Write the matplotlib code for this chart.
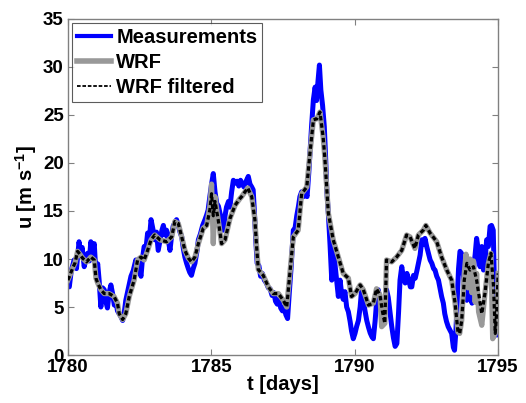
import matplotlib
matplotlib.use("Agg")
import matplotlib.pyplot as plt

plt.rcParams['font.family'] = ['Liberation Sans', 'DejaVu Sans']
plt.rcParams['font.weight'] = 'bold'
plt.rcParams['mathtext.fontset'] = 'custom'
plt.rcParams['mathtext.rm'] = 'Liberation Sans:bold'
plt.rcParams['mathtext.bf'] = 'Liberation Sans:bold'
plt.rcParams['mathtext.default'] = 'bf'

# measurements (blue)
t_meas = [1780.00, 1780.05, 1780.12, 1780.22, 1780.30, 1780.39, 1780.45, 1780.50, 1780.57, 1780.63,
          1780.69, 1780.75, 1780.80, 1780.86, 1780.92, 1780.98, 1781.04, 1781.09, 1781.15, 1781.21,
          1781.27, 1781.33, 1781.38, 1781.44, 1781.50, 1781.56, 1781.62, 1781.67, 1781.73, 1781.79,
          1781.85, 1781.91, 1781.97, 1782.02, 1782.10, 1782.20, 1782.28, 1782.37, 1782.45, 1782.55,
          1782.60, 1782.66, 1782.72, 1782.78, 1782.84, 1782.90, 1782.96, 1783.03, 1783.09, 1783.15,
          1783.22, 1783.28, 1783.33, 1783.39, 1783.44, 1783.50, 1783.56, 1783.62, 1783.67, 1783.73,
          1783.79, 1783.85, 1783.91, 1783.97, 1784.03, 1784.08, 1784.14, 1784.20, 1784.25, 1784.31,
          1784.37, 1784.43, 1784.50, 1784.55, 1784.62, 1784.70, 1784.78, 1784.84, 1784.89, 1784.95,
          1785.01, 1785.07, 1785.13, 1785.19, 1785.25, 1785.30, 1785.36, 1785.42, 1785.48, 1785.53,
          1785.60, 1785.65, 1785.71, 1785.77, 1785.84, 1785.90, 1785.96, 1786.02, 1786.08, 1786.14,
          1786.20, 1786.29, 1786.35, 1786.41, 1786.46, 1786.50, 1786.55, 1786.60, 1786.66, 1786.72,
          1786.78, 1786.85, 1786.92, 1786.99, 1787.05, 1787.12, 1787.18, 1787.24, 1787.30, 1787.36,
          1787.42, 1787.48, 1787.54, 1787.60, 1787.66, 1787.72, 1787.78, 1787.86, 1787.92, 1787.98,
          1788.04, 1788.09, 1788.15, 1788.22, 1788.28, 1788.34, 1788.40, 1788.44, 1788.50, 1788.56,
          1788.62, 1788.67, 1788.72, 1788.77, 1788.82, 1788.88, 1788.94, 1788.99, 1789.03, 1789.08,
          1789.14, 1789.20, 1789.25, 1789.31, 1789.37, 1789.43, 1789.49, 1789.54, 1789.60, 1789.66,
          1789.72, 1789.78, 1789.84, 1789.89, 1789.95, 1790.01, 1790.07, 1790.13, 1790.19, 1790.24,
          1790.30, 1790.36, 1790.42, 1790.48, 1790.54, 1790.60, 1790.65, 1790.71, 1790.76, 1790.82,
          1790.88, 1790.94, 1791.00, 1791.05, 1791.11, 1791.17, 1791.23, 1791.29, 1791.35, 1791.41,
          1791.47, 1791.53, 1791.58, 1791.64, 1791.70, 1791.76, 1791.82, 1791.88, 1791.94, 1791.99,
          1792.05, 1792.11, 1792.17, 1792.22, 1792.28, 1792.34, 1792.40, 1792.45, 1792.51, 1792.57,
          1792.63, 1792.69, 1792.75, 1792.80, 1792.86, 1792.92, 1792.97, 1793.03, 1793.09, 1793.14,
          1793.20, 1793.26, 1793.32, 1793.38, 1793.44, 1793.48, 1793.53, 1793.58, 1793.62, 1793.67,
          1793.72, 1793.78, 1793.84, 1793.91, 1793.97, 1794.03, 1794.09, 1794.14, 1794.20, 1794.25,
          1794.31, 1794.37, 1794.43, 1794.49, 1794.55, 1794.60, 1794.66, 1794.72, 1794.77, 1794.83,
          1794.88, 1794.92, 1794.96, 1795.00]
u_meas = [7.5, 7.1, 8.8, 9.9, 9.0, 11.8, 10.5, 11.2, 9.2, 10.0,
          10.6, 9.8, 11.8, 11.0, 11.6, 8.5, 9.5, 7.8, 5.0, 7.0,
          6.8, 5.5, 4.9, 6.5, 7.3, 6.4, 5.2, 5.7, 4.6, 4.3,
          4.0, 3.6, 4.5, 5.7, 6.8, 8.2, 8.8, 9.9, 9.2, 8.2,
          10.0, 11.3, 11.0, 12.7, 12.0, 14.1, 13.2, 12.0, 12.8, 10.9,
          12.0, 13.0, 13.5, 12.5, 13.0, 12.0, 10.9, 12.5, 13.4, 13.8,
          14.1, 13.5, 12.8, 12.3, 11.0, 10.2, 9.55, 9.0, 8.6, 8.3,
          9.0, 9.55, 10.8, 12.0, 12.6, 13.5, 14.1, 14.6, 15.1, 16.5,
          17.8, 18.9, 17.0, 15.8, 15.5, 14.8, 14.0, 13.0, 14.5, 15.4,
          16.0, 15.4, 17.0, 18.2, 17.9, 18.1, 17.6, 18.2, 17.8, 17.5,
          18.0, 18.6, 17.8, 17.5, 17.2, 15.1, 12.0, 9.55, 9.3, 8.2,
          8.5, 7.8, 7.5, 7.0, 6.9, 6.2, 6.5, 5.6, 5.3, 5.8,
          4.9, 4.6, 5.0, 4.2, 3.8, 6.5, 9.0, 13.0, 13.2, 14.5,
          15.5, 16.5, 17.0, 16.5, 17.0, 16.5, 19.0, 21.0, 24.0, 26.6,
          27.9, 26.5, 28.5, 30.2, 27.6, 26.0, 23.8, 20.3, 17.0, 14.8,
          11.5, 7.8, 11.3, 9.5, 7.8, 6.1, 7.8, 6.5, 5.8, 6.6,
          5.0, 4.5, 3.5, 2.5, 1.7, 2.25, 3.0, 3.6, 5.0, 6.8,
          5.7, 4.6, 3.6, 2.9, 2.3, 1.9, 1.7, 3.5, 5.4, 6.8,
          5.8, 4.3, 4.8, 5.7, 6.8, 6.0, 4.5, 3.0, 1.8, 0.9,
          1.2, 4.5, 7.8, 9.2, 8.0, 7.5, 8.5, 7.9, 7.1, 7.1,
          8.3, 8.0, 8.8, 9.55, 10.4, 12.0, 11.5, 12.15, 11.3, 10.6,
          9.9, 9.55, 9.0, 8.85, 8.2, 7.8, 7.0, 6.1, 5.4, 4.3,
          3.5, 2.95, 2.6, 2.25, 0.8, 0.5, 2.6, 6.1, 9.0, 10.8,
          10.6, 8.5, 7.1, 5.7, 7.8, 6.5, 5.4, 8.85, 10.5, 12.15,
          10.9, 9.2, 11.3, 8.85, 10.0, 12.0, 11.3, 13.4, 13.5, 13.0,
          6.1, 4.7, 6.8, 2.1]

# WRF model (gray)
t_wrf = [1780.00, 1780.05, 1780.16, 1780.25, 1780.34, 1780.42, 1780.51, 1780.65, 1780.80, 1780.92,
         1780.98, 1781.04, 1781.15, 1781.27, 1781.44, 1781.61, 1781.73, 1781.79, 1781.91, 1782.02,
         1782.14, 1782.31, 1782.43, 1782.55, 1782.66, 1782.78, 1782.90, 1783.03, 1783.21, 1783.44,
         1783.62, 1783.73, 1783.85, 1783.97, 1784.08, 1784.20, 1784.31, 1784.43, 1784.55, 1784.72,
         1784.84, 1784.95, 1785.01, 1785.07, 1785.13, 1785.24, 1785.36, 1785.48, 1785.65, 1785.83,
         1786.00, 1786.06, 1786.27, 1786.41, 1786.52, 1786.58, 1786.64, 1786.81, 1786.99, 1787.16,
         1787.34, 1787.51, 1787.63, 1787.74, 1787.86, 1788.03, 1788.15, 1788.33, 1788.44, 1788.56,
         1788.68, 1788.79, 1788.90, 1788.96, 1789.08, 1789.25, 1789.43, 1789.60, 1789.78, 1789.89,
         1790.01, 1790.19, 1790.30, 1790.48, 1790.65, 1790.76, 1790.88, 1790.94, 1791.05, 1791.11,
         1791.29, 1791.46, 1791.64, 1791.81, 1791.93, 1792.10, 1792.22, 1792.39, 1792.48, 1792.63,
         1792.86, 1793.03, 1793.21, 1793.38, 1793.50, 1793.60, 1793.66, 1793.73, 1793.82, 1793.88,
         1793.95, 1794.02, 1794.08, 1794.14, 1794.20, 1794.25, 1794.32, 1794.43, 1794.54, 1794.66,
         1794.75, 1794.81, 1794.90, 1794.96, 1795.00]
u_wrf = [7.8, 8.15, 9.0, 9.6, 10.8, 10.5, 10.1, 9.7, 10.2, 9.9,
         8.0, 7.5, 6.8, 6.4, 6.4, 6.1, 5.4, 4.3, 3.7, 4.3,
         6.1, 7.8, 9.9, 10.2, 9.9, 10.9, 12.0, 12.5, 12.0, 11.8,
         12.3, 13.9, 13.7, 12.3, 10.9, 10.1, 9.7, 10.2, 11.6, 13.2,
         13.5, 15.5, 17.8, 11.6, 16.5, 14.1, 11.6, 12.0, 14.2, 15.6,
         16.3, 16.5, 17.4, 16.5, 14.1, 11.3, 8.9, 8.3, 7.1, 6.4,
         6.4, 5.7, 5.0, 8.5, 12.3, 13.0, 16.8, 17.5, 21.0, 24.5,
         24.6, 25.3, 22.7, 20.5, 14.8, 12.0, 10.2, 8.5, 8.0, 6.1,
         6.4, 7.3, 6.8, 5.2, 5.4, 6.9, 6.25, 2.95, 3.3, 9.9,
         9.7, 10.2, 10.9, 12.5, 12.3, 11.1, 12.5, 13.0, 13.5, 12.7,
         11.8, 10.2, 8.85, 7.8, 5.4, 2.4, 2.25, 3.6, 8.5, 10.5,
         7.0, 10.0, 6.5, 9.8, 5.5, 8.5, 4.5, 3.1, 6.4, 9.55,
         10.6, 1.7, 2.25, 5.0, 8.5]

# WRF filtered (black dashed)
t_filt = [1780.00, 1780.05, 1780.16, 1780.25, 1780.34, 1780.42, 1780.51, 1780.65, 1780.80, 1780.92,
          1780.98, 1781.04, 1781.15, 1781.27, 1781.44, 1781.61, 1781.73, 1781.79, 1781.91, 1782.02,
          1782.14, 1782.31, 1782.43, 1782.55, 1782.66, 1782.78, 1782.90, 1783.03, 1783.21, 1783.44,
          1783.62, 1783.73, 1783.85, 1783.97, 1784.08, 1784.20, 1784.31, 1784.43, 1784.55, 1784.72,
          1784.84, 1784.95, 1785.01, 1785.07, 1785.13, 1785.24, 1785.36, 1785.48, 1785.65, 1785.83,
          1786.00, 1786.06, 1786.27, 1786.41, 1786.52, 1786.58, 1786.64, 1786.81, 1786.99, 1787.16,
          1787.34, 1787.51, 1787.63, 1787.74, 1787.86, 1788.03, 1788.15, 1788.33, 1788.44, 1788.56,
          1788.68, 1788.79, 1788.90, 1788.96, 1789.08, 1789.25, 1789.43, 1789.60, 1789.78, 1789.89,
          1790.01, 1790.19, 1790.30, 1790.48, 1790.65, 1790.76, 1790.88, 1790.97, 1791.05, 1791.11,
          1791.29, 1791.46, 1791.64, 1791.81, 1791.93, 1792.10, 1792.22, 1792.39, 1792.48, 1792.63,
          1792.86, 1793.03, 1793.21, 1793.38, 1793.50, 1793.60, 1793.66, 1793.73, 1793.82, 1793.91,
          1794.02, 1794.14, 1794.25, 1794.43, 1794.54, 1794.66, 1794.75, 1794.84, 1794.90, 1794.96,
          1795.00]
u_filt = [7.8, 8.15, 9.0, 9.6, 10.8, 10.5, 10.1, 9.7, 10.2, 9.9,
          8.0, 7.5, 6.8, 6.4, 6.4, 6.1, 5.4, 4.3, 3.7, 4.3,
          6.1, 7.8, 9.9, 10.2, 9.9, 10.9, 12.0, 12.5, 12.0, 11.8,
          12.3, 13.9, 13.7, 12.3, 10.9, 10.1, 9.7, 10.2, 11.6, 13.2,
          13.5, 15.1, 16.8, 14.5, 16.0, 14.1, 11.6, 12.0, 14.2, 15.6,
          16.3, 16.5, 17.4, 16.5, 14.1, 11.3, 8.9, 8.3, 7.1, 6.4,
          6.4, 5.7, 5.0, 8.5, 12.3, 13.0, 16.8, 17.5, 21.0, 24.5,
          24.6, 25.3, 22.7, 20.5, 14.8, 12.0, 10.2, 8.5, 8.0, 6.1,
          6.4, 7.3, 6.8, 5.2, 5.4, 6.9, 6.25, 4.5, 3.3, 9.9,
          9.7, 10.2, 10.9, 12.5, 12.3, 11.1, 12.5, 13.0, 13.5, 12.7,
          11.8, 10.2, 8.85, 7.8, 5.4, 2.4, 2.25, 3.6, 7.8, 9.55,
          8.85, 9.2, 7.8, 4.3, 6.4, 9.55, 10.6, 7.1, 2.25, 5.0,
          8.5]

fig = plt.figure(figsize=(5.26, 4.03), dpi=100)
ax = fig.add_axes([0.129, 0.119, 0.818, 0.834])

ax.plot(t_meas, u_meas, color='#0000ff', lw=3.6, label='Measurements', zorder=2)
ax.plot(t_wrf, u_wrf, color='#999999', lw=3.8, label='WRF', zorder=3)
ax.plot(t_filt, u_filt, color='black', lw=2.3, dashes=(1.4, 0.9), label='WRF filtered', zorder=4)

ax.set_xlim(1780, 1795)
ax.set_ylim(0, 35)
ax.set_xticks([1780, 1785, 1790, 1795])
ax.set_yticks([0, 5, 10, 15, 20, 25, 30, 35])
ax.tick_params(direction='in', top=True, right=True, length=4, width=0.8,
               color='#808080', labelsize=13.5, pad=3)
for lab in ax.get_xticklabels() + ax.get_yticklabels():
    lab.set_fontweight('bold')
for sp in ax.spines.values():
    sp.set_color('#808080')
    sp.set_linewidth(1.0)

ax.set_xlabel('t [days]', fontsize=14.5, fontweight='bold', labelpad=-1)
ax.set_ylabel(r'u [m s$^{-1}$]', fontsize=14.5, fontweight='bold', labelpad=3)

leg = ax.legend(loc='upper left', fontsize=14.5, frameon=True, fancybox=False,
                borderaxespad=0.2, handlelength=1.7, handletextpad=0.25,
                labelspacing=0.3, borderpad=0.25)
leg.get_frame().set_edgecolor('#333333')
leg.get_frame().set_linewidth(0.8)
for txt in leg.get_texts():
    txt.set_fontweight('bold')
lines = leg.get_lines()
lines[0].set_linewidth(3)
lines[1].set_linewidth(4)
lines[2].set_linewidth(1.3)
lines[2].set_dashes((2, 1))

fig.savefig('out.png', dpi=100)
